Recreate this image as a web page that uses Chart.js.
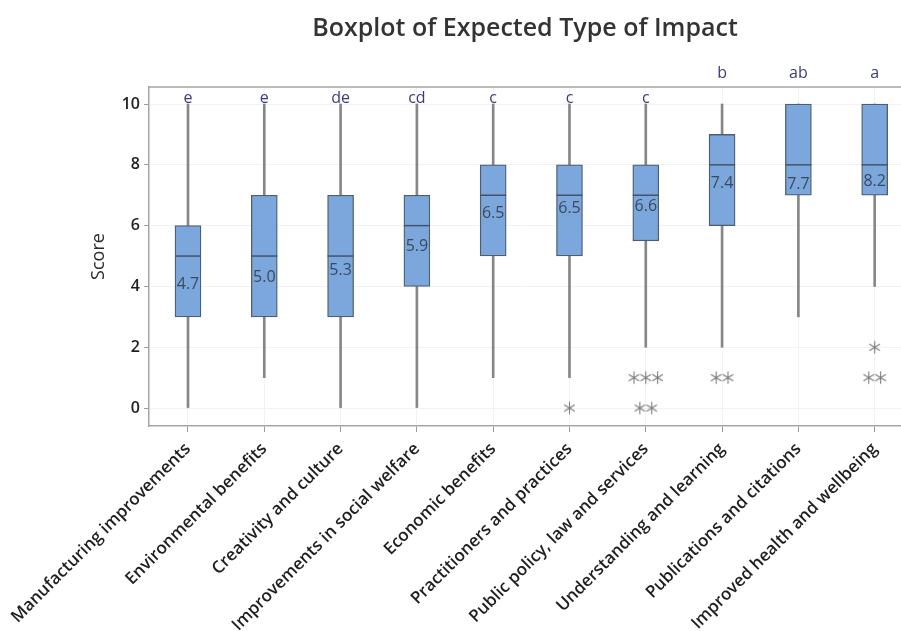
<!DOCTYPE html>
<html>
<head>
<meta charset="utf-8">
<script src="https://cdn.jsdelivr.net/npm/chart.js@4/dist/chart.umd.min.js"></script>
<style>
  html, body { margin: 0; padding: 0; background: #fff; overflow: hidden; }
  #wrap { width: 901px; height: 631px; }
</style>
</head>
<body>
<div id="wrap"><canvas id="c"></canvas></div>
<script>
// Impact types, ordered by mean score
const categories = [
  'Manufacturing improvements',
  'Environmental benefits',
  'Creativity and culture',
  'Improvements in social welfare',
  'Economic benefits',
  'Practitioners and practices',
  'Public policy, law and services',
  'Understanding and learning',
  'Publications and citations',
  'Improved health and wellbeing'
];
// Five-number summaries (whisker ends, quartiles, median)
const whiskerLow  = [0, 1, 0, 0, 1, 1, 2,   2, 3, 4];
const q1          = [3, 3, 3, 4, 5, 5, 5.5, 6, 7, 7];
const medians     = [5, 5, 5, 6, 7, 7, 7,   8, 8, 8];
const q3          = [6, 7, 7, 7, 8, 8, 8,   9, 10, 10];
const whiskerHigh = [10, 10, 10, 10, 10, 10, 10, 10, 10, 10];
// Mean scores written inside the boxes
const means = [4.7, 5.0, 5.3, 5.9, 6.5, 6.5, 6.6, 7.4, 7.7, 8.2];
// Score level at which each mean label sits
const meanLabelAt = [4.08, 4.31, 4.54, 5.30, 6.41, 6.55, 6.64, 7.40, 7.34, 7.47];
// Grouping letters from the multiple-comparison test
const groupLetters = ['e', 'e', 'de', 'cd', 'c', 'c', 'c', 'b', 'ab', 'a'];
const letterAt = [10.2, 10.2, 10.2, 10.2, 10.2, 10.2, 10.2, 11.0, 11.0, 11.0];
// Outlying responses per impact type
const outliers = [[], [], [], [], [], [0], [1, 1, 1, 0, 0], [1, 1], [], [2, 1, 1]];
const yTicks = [0, 2, 4, 6, 8, 10];

const idx = categories.map((_, i) => i);

// Spread repeated outliers side by side
const outlierPoints = [];
outliers.forEach((vals, i) => {
  const counts = {};
  vals.forEach(v => { counts[v] = (counts[v] || 0) + 1; });
  Object.keys(counts).forEach(k => {
    const n = counts[k];
    for (let j = 0; j < n; j++) {
      outlierPoints.push({ x: i + (j - (n - 1) / 2) * 0.155, y: Number(k) });
    }
  });
});

// Asterisk marker for outliers
function asterisk() {
  const s = 15, c = s / 2, r = 6.2;
  const cv = document.createElement('canvas');
  cv.width = s; cv.height = s;
  const g = cv.getContext('2d');
  g.strokeStyle = '#7c7c7c';
  g.lineWidth = 1.1;
  g.beginPath();
  for (const a of [90, 32, -32]) {
    const dx = r * Math.cos(a * Math.PI / 180), dy = r * Math.sin(a * Math.PI / 180);
    g.moveTo(c - dx, c - dy); g.lineTo(c + dx, c + dy);
  }
  g.stroke();
  return cv;
}

const FONT = '"Open Sans", "Noto Sans", sans-serif';

const annotate = {
  id: 'annotate',
  afterDatasetsDraw(chart) {
    const { ctx, chartArea, scales: { x, y } } = chart;
    ctx.save();
    ctx.strokeStyle = '#a5a5a5';
    ctx.lineWidth = 1.5;
    ctx.beginPath();
    ctx.moveTo(chartArea.left, chartArea.top);
    ctx.lineTo(chartArea.right, chartArea.top);
    ctx.stroke();

    ctx.textAlign = 'center';
    ctx.textBaseline = 'middle';
    ctx.font = '16px ' + FONT;
    ctx.fillStyle = '#3a4a5e';
    means.forEach((m, i) => {
      ctx.fillText(m.toFixed(1), x.getPixelForValue(i), y.getPixelForValue(meanLabelAt[i]));
    });
    ctx.fillStyle = '#3b3b7c';
    groupLetters.forEach((t, i) => {
      ctx.fillText(t, x.getPixelForValue(i), y.getPixelForValue(letterAt[i]));
    });
    ctx.restore();
  }
};

new Chart(document.getElementById('c'), {
  type: 'bar',
  data: {
    datasets: [
      {
        label: 'Lower whisker',
        data: idx.map(i => ({ x: i, y: [whiskerLow[i], q1[i]] })),
        backgroundColor: '#868686',
        borderWidth: 0,
        barThickness: 2,
        grouped: false,
        order: 4
      },
      {
        label: 'Upper whisker',
        data: idx.map(i => ({ x: i, y: [q3[i], whiskerHigh[i]] })),
        backgroundColor: '#868686',
        borderWidth: 0,
        barThickness: 2,
        grouped: false,
        order: 4
      },
      {
        label: 'Interquartile range',
        data: idx.map(i => ({ x: i, y: [q1[i], q3[i]] })),
        backgroundColor: '#7ba7dc',
        borderColor: '#4e5e72',
        borderWidth: 1.3,
        borderSkipped: false,
        barThickness: 26,
        grouped: false,
        order: 3
      },
      {
        type: 'scatter',
        label: 'Median',
        data: idx.map(i => ({ x: i, y: medians[i] })),
        pointStyle: 'line',
        pointRadius: 13,
        borderColor: '#44536a',
        borderWidth: 1.5,
        order: 2
      },
      {
        type: 'scatter',
        label: 'Outliers',
        data: outlierPoints,
        pointStyle: asterisk(),
        pointRadius: 7,
        order: 1
      }
    ]
  },
  options: {
    responsive: true,
    maintainAspectRatio: false,
    devicePixelRatio: 1,
    animation: false,
    layout: { autoPadding: false, padding: { left: 88, right: 0, top: 0, bottom: 0 } },
    plugins: {
      legend: { display: false },
      tooltip: { enabled: false },
      title: {
        display: true,
        text: 'Boxplot of Expected Type of Impact',
        fullSize: false,
        color: '#333333',
        font: { family: FONT, size: 25, weight: '600' },
        padding: { top: 14, bottom: 43 }
      }
    },
    scales: {
      x: {
        type: 'linear',
        offset: false,
        min: -0.511,
        max: 9.345,
        afterBuildTicks(scale) { scale.ticks = idx.map(i => ({ value: i })); },
        afterFit(scale) { scale.height = 205; scale.paddingLeft = 0; scale.paddingRight = 0; },
        ticks: {
          autoSkip: false,
          minRotation: 45,
          maxRotation: 45,
          padding: 7,
          color: '#1e1e1e',
          font: { family: FONT, size: 17, weight: '600' },
          callback: (v) => categories[v]
        },
        grid: { offset: false, color: '#f2f2f2', tickColor: '#9c9c9c', tickLength: 6 },
        border: { color: '#a5a5a5', width: 1.5 }
      },
      y: {
        min: -0.59,
        max: 10.56,
        afterBuildTicks(scale) { scale.ticks = yTicks.map(v => ({ value: v })); },
        afterFit(scale) { scale.width = 61; scale.paddingTop = 0; scale.paddingBottom = 0; },
        ticks: {
          padding: 4,
          color: '#1e1e1e',
          font: { family: FONT, size: 16, weight: '600' }
        },
        title: {
          display: true,
          text: 'Score',
          color: '#2a2a2a',
          font: { family: FONT, size: 18 },
          padding: { top: 0, bottom: 0 }
        },
        grid: { color: '#f2f2f2', tickColor: '#9c9c9c', tickLength: 5 },
        border: { color: '#a5a5a5', width: 1.5 }
      }
    }
  },
  plugins: [annotate]
});
</script>
</body>
</html>
